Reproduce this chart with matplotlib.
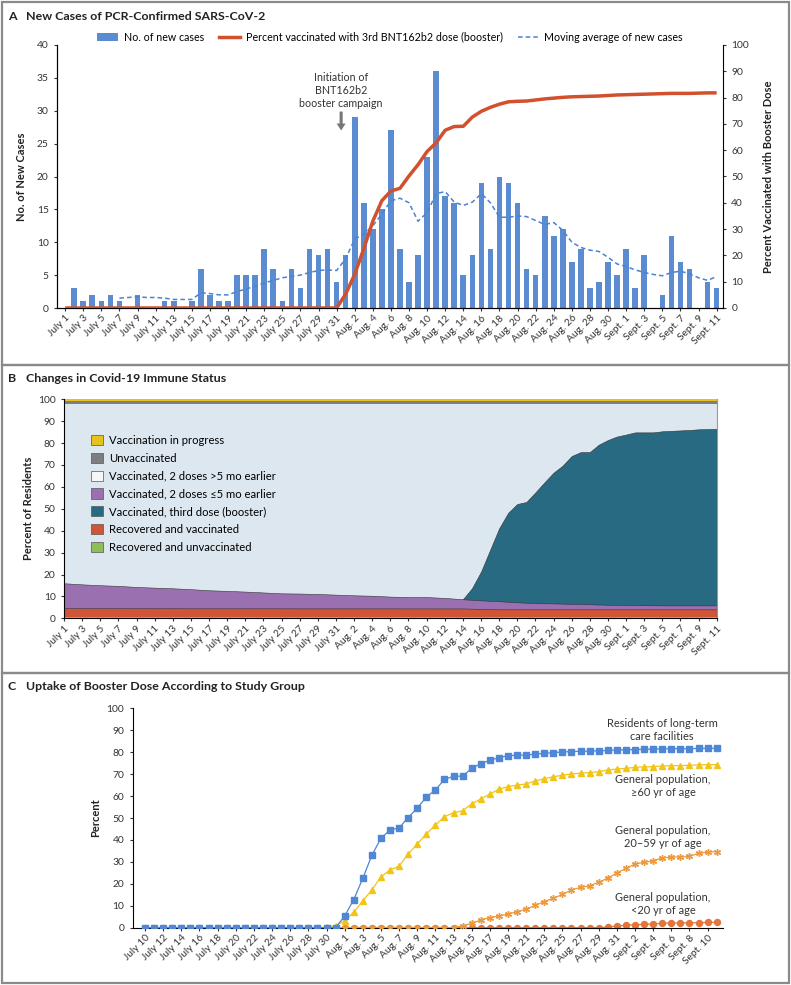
import numpy as np
import matplotlib
matplotlib.use("Agg")
import matplotlib.pyplot as plt
from matplotlib.patches import Patch, Rectangle
from matplotlib.lines import Line2D

plt.rcParams["font.family"] = ["Lato", "DejaVu Sans"]
plt.rcParams["font.size"] = 7.4
plt.rcParams["axes.linewidth"] = 0.8
plt.rcParams["xtick.major.size"] = 2.5
plt.rcParams["ytick.major.size"] = 2.5
plt.rcParams["xtick.color"] = "#333333"
plt.rcParams["ytick.color"] = "#333333"

W, H = 791, 985

# ---------------- data ----------------
# tick labels, every second day from July 1 to Sept. 11
labels_ab = ["July 1", "July 3", "July 5", "July 7", "July 9", "July 11", "July 13", "July 15",
             "July 17", "July 19", "July 21", "July 23", "July 25", "July 27", "July 29", "July 31",
             "Aug. 2", "Aug. 4", "Aug. 6", "Aug. 8", "Aug. 10", "Aug. 12", "Aug. 14", "Aug. 16",
             "Aug. 18", "Aug. 20", "Aug. 22", "Aug. 24", "Aug. 26", "Aug. 28", "Aug. 30",
             "Sept. 1", "Sept. 3", "Sept. 5", "Sept. 7", "Sept. 9", "Sept. 11"]
# tick labels for panel C, every second day from July 10 to Sept. 10
labels_c = ["July 10", "July 12", "July 14", "July 16", "July 18", "July 20", "July 22", "July 24",
            "July 26", "July 28", "July 30", "Aug. 1", "Aug. 3", "Aug. 5", "Aug. 7", "Aug. 9",
            "Aug. 11", "Aug. 13", "Aug. 15", "Aug. 17", "Aug. 19", "Aug. 21", "Aug. 23", "Aug. 25",
            "Aug. 27", "Aug. 29", "Aug. 31", "Sept. 2", "Sept. 4", "Sept. 6", "Sept. 8", "Sept. 10"]

# panel A: daily new cases July 1 .. Sept 11
new_cases = [0, 3, 1, 2, 1, 2, 1, 0, 2, 0, 0, 1, 1, 0, 1, 6, 2, 1, 1, 5, 5, 5, 9, 6, 1, 6, 3, 9, 8, 9, 4,
             8, 29, 16, 12, 15, 27, 9, 4, 8, 23, 36, 17, 16, 5, 8, 19, 9, 20, 19, 16, 6, 5, 14, 11, 12,
             7, 9, 3, 4, 7, 5,
             9, 3, 8, 0, 2, 11, 7, 6, 0, 4, 3]
# moving average, July 7 .. Sept 11
moving_avg = [1.5, 1.6, 1.7, 1.6, 1.6, 1.5, 1.3, 1.3, 1.3,
              2.3, 2.2, 2.0, 2.0, 2.5, 2.9, 3.3, 3.8, 4.2, 4.6, 4.8, 5.0, 5.4, 5.7, 5.8, 5.7,
              7.5, 10.5, 11.2, 12.5, 14.3, 16.3, 16.7, 16.0, 13.2, 14.5, 17.4, 17.7, 16.1, 15.6, 16.1,
              17.4, 16.0, 13.8, 13.8, 14.0, 13.9, 13.3, 12.7, 13.0, 11.8, 10.0, 9.2, 8.8, 8.6, 7.7, 6.7,
              6.3, 5.8, 5.4, 5.1, 4.9, 5.4, 5.6, 5.2, 4.6, 4.2, 4.8]
# percent of residents boosted, July 1 .. Sept 11
booster_pct = [0] * 31 + [
    5.3, 12.8, 22.5, 33.0, 40.8, 44.5, 45.5, 50.2, 54.5, 59.5, 62.8, 67.6, 69.0, 69.1, 72.6, 74.8,
    76.3, 77.5, 78.4, 78.6, 78.7, 79.1, 79.5, 79.8, 80.1, 80.3, 80.4, 80.5, 80.6, 80.8, 81.0,
    81.1, 81.2, 81.3, 81.4, 81.5, 81.6, 81.6, 81.6, 81.7, 81.8, 81.8]

# panel B: cumulative upper boundaries of the stacked layers (percent)
purple_top = [16.0, 15.5, 15.1, 14.8, 14.3, 14.0, 13.7, 13.3, 12.8, 12.5, 12.2, 11.8, 11.4, 11.3,
              11.1, 10.8, 10.5, 10.3, 9.9, 9.7, 9.7, 9.3, 8.7, 8.2, 7.8, 7.3, 6.9, 6.8, 6.6, 6.4,
              6.2, 6.1, 6.0, 5.9, 5.9, 5.9, 5.9]          # every 2nd day from July 1
teal_top = [8.7, 13.7, 21.3, 31.2, 41.1, 48.2, 52.2, 53.1, 57.5, 62.1, 66.5, 69.7, 74.1, 75.9, 75.9,
            79.3, 81.4, 83.0, 83.9, 84.9, 84.9, 84.9, 85.4, 85.6, 85.8, 86.0, 86.3, 86.4, 86.5]  # Aug 14 .. Sept 11
red_top_days = [0, 44, 48, 72]
red_top = [4.6, 4.5, 4.1, 4.1]
green_top = 0.6
light_top = 98.0
grey_top = 99.2

# panel C: uptake by group, July 10 .. Sept 11
ge60 = [0] * 20 + [0.3, 0.8,
        3.2, 7.0, 12.3, 17.2, 23.2, 26.3, 28.1, 33.6, 38.1, 42.7, 46.8, 50.6, 52.4, 53.3, 56.4, 58.7,
        60.9, 63.1, 64.3, 65.0, 65.5, 66.9, 67.9, 68.8, 69.5, 70.1, 70.4, 70.7, 71.1, 71.9, 72.3,
        72.6, 73.1, 73.3, 73.4, 73.7, 73.8, 73.9, 74.0, 74.2, 74.3, 74.3]
age20_59 = [0] * 35 + [0.8, 2.0, 3.5, 4.6, 5.3, 6.2, 7.3, 8.4, 10.2, 11.9, 13.4, 15.2, 17.2, 18.4,
                       19.1, 20.7, 22.6, 24.9,
                       27.1, 29.0, 29.8, 30.5, 31.8, 32.2, 32.2, 32.5, 33.9, 34.5, 34.7]
lt20 = [0] * 51 + [0.3, 0.8, 1.1, 1.4, 1.5, 1.7, 2.0, 2.1, 2.2, 2.2, 2.3, 2.4, 2.4]
residents = booster_pct[9:]

days = np.arange(len(new_cases))
days_c = np.arange(len(residents))


def ax_rect(left, top, right, bottom):
    return [left / W, 1 - bottom / H, (right - left) / W, (bottom - top) / H]


def fx(x):
    return x / W


def fy(y):
    return 1 - y / H


fig = plt.figure(figsize=(W / 100, H / 100), dpi=100)

# panel frames
for y0, y1 in [(2, 365), (365, 673), (673, 983)]:
    fig.add_artist(Rectangle((fx(2), fy(y1)), fx(787), (y1 - y0) / H, fill=False,
                             edgecolor="#8a8a8a", linewidth=1.6, transform=fig.transFigure))

title_kw = dict(fontsize=8.9, fontweight="bold", va="center", color="#222222")
fig.text(fx(8), fy(16), "A", **title_kw)
fig.text(fx(26), fy(16), "New Cases of PCR-Confirmed SARS-CoV-2", **title_kw)
fig.text(fx(8), fy(378), "B", **title_kw)
fig.text(fx(26), fy(378), "Changes in Covid-19 Immune Status", **title_kw)
fig.text(fx(8), fy(687), "C", **title_kw)
fig.text(fx(26), fy(687), "Uptake of Booster Dose According to Study Group", **title_kw)

lab_kw = dict(fontsize=8.0, fontweight="bold", rotation=90, ha="center", va="center", color="#222222")

# ---------------- panel A ----------------
blue = "#5B8BD0"
red = "#D2502E"
ax1 = fig.add_axes(ax_rect(57, 45, 723, 308))
ax1.bar(days, new_cases, width=0.62, color=blue, zorder=2)
ma_days = days[6:]
ax1.plot(ma_days, moving_avg, color="#4A82D4", linestyle=(0, (3, 2)), linewidth=1.1, zorder=3)
ax1.set_xlim(-0.9, 72.7)
ax1.set_ylim(0, 40)
ax1.set_yticks(range(0, 41, 5))
ax1.set_xticks(days[::2])
ax1.set_xticklabels(labels_ab, rotation=45, ha="right", rotation_mode="anchor")
ax1.tick_params(axis="x", pad=1.5)
ax1.spines["top"].set_visible(False)
ax1.spines["right"].set_visible(False)
ax1.set_zorder(1)

ax2 = ax1.twinx()
ax2.plot(days, booster_pct, color=red, linewidth=2.5, zorder=4, solid_capstyle="butt")
ax2.set_ylim(0, 100)
ax2.set_yticks(range(0, 101, 10))
ax2.spines["top"].set_visible(False)
ax2.set_zorder(2)
ax2.patch.set_visible(False)

fig.text(fx(22), fy(177), "No. of New Cases", **lab_kw)
fig.text(fx(768), fy(177), "Percent Vaccinated with Booster Dose", **lab_kw)

handles = [Patch(facecolor=blue, edgecolor="none"),
           Line2D([], [], color=red, linewidth=2.5),
           Line2D([], [], color="#4A82D4", linestyle=(0, (3, 2)), linewidth=1.1)]
ax1.legend(handles, ["No. of new cases", "Percent vaccinated with 3rd BNT162b2 dose (booster)",
                     "Moving average of new cases"],
           loc="lower center", bbox_to_anchor=(0.5, 0.985), ncol=3, frameon=False,
           fontsize=7.7, handlelength=2.0, columnspacing=1.4, handletextpad=0.5,
           borderaxespad=0.2)
ax1.annotate("Initiation of\nBNT162b2\nbooster campaign", xy=(30.5, 27.0), xytext=(30.5, 30.3),
             ha="center", va="bottom", fontsize=7.7, color="#333333", linespacing=1.2,
             arrowprops=dict(facecolor="#777777", edgecolor="none", width=2.2, headwidth=6.5,
                             headlength=5, shrink=0.0))

# ---------------- panel B ----------------
axb = fig.add_axes(ax_rect(64, 399.3, 716.7, 618.3))
c_yellow, c_grey, c_light = "#E8C21C", "#7E7E80", "#DDE7EF"
c_purple, c_teal, c_red, c_green = "#9B70B0", "#276A82", "#D05537", "#8DBE5A"
axb.fill_between([0, 72], 0, 100, color=c_yellow, linewidth=0)
axb.fill_between([0, 72], 0, grey_top, color=c_grey, linewidth=0)
axb.fill_between([0, 72], 0, light_top, color=c_light, linewidth=0)
axb.fill_between(days[44:], 0, teal_top, color=c_teal, edgecolor="#333333", linewidth=0.4)
axb.fill_between(days[::2], 0, purple_top, color=c_purple, edgecolor="#333333", linewidth=0.4)
axb.fill_between(red_top_days, 0, red_top, color=c_red, edgecolor="#333333", linewidth=0.4)
axb.fill_between([0, 72], 0, green_top, color=c_green, linewidth=0)
axb.set_xlim(0, 72)
axb.set_ylim(0, 100)
axb.set_yticks(range(0, 101, 10))
axb.set_xticks(days[::2])
axb.set_xticklabels(labels_ab, rotation=45, ha="right", rotation_mode="anchor")
axb.tick_params(axis="x", pad=1.5)
axb.spines["top"].set_visible(False)
axb.spines["right"].set_color("#999999")
fig.text(fx(29), fy(508), "Percent of Residents", **lab_kw)

leg_names = ["Vaccination in progress", "Unvaccinated", "Vaccinated, 2 doses >5 mo earlier",
             "Vaccinated, 2 doses \u22645 mo earlier", "Vaccinated, third dose (booster)",
             "Recovered and vaccinated", "Recovered and unvaccinated"]
leg_cols = [c_yellow, c_grey, "#F4F6F8", c_purple, c_teal, c_red, c_green]
axb.legend([Patch(facecolor=c, edgecolor="#555555", linewidth=0.5) for c in leg_cols], leg_names,
           loc="upper left", bbox_to_anchor=(0.035, 0.857), frameon=False, fontsize=8.1,
           handlelength=1.0, handleheight=1.0, handletextpad=0.6, labelspacing=0.6,
           borderaxespad=0)

# ---------------- panel C ----------------
axc = fig.add_axes(ax_rect(132.7, 708.3, 723, 927.7))
axc.plot(days_c, lt20, color="#E4743A", marker="o", markersize=4.3, linewidth=0.9, zorder=2)
axc.plot(days_c, age20_59, color="#EE9A3C", marker=(6, 2, 0), markersize=5, markeredgewidth=1.0,
         linewidth=0.9, zorder=3)
axc.plot(days_c, ge60, color="#F2C417", marker="^", markersize=4.6, linewidth=0.9, zorder=4)
axc.plot(days_c, residents, color="#4F86D6", marker="s", markersize=4.0, linewidth=0.9, zorder=5)
axc.set_xlim(-1.36, 63.7)
axc.set_ylim(0, 100)
axc.set_yticks(range(0, 101, 10))
axc.set_xticks(days_c[::2][:len(labels_c)])
axc.set_xticklabels(labels_c, rotation=45, ha="right", rotation_mode="anchor")
axc.tick_params(axis="x", pad=1.5)
axc.spines["top"].set_visible(False)
axc.spines["right"].set_visible(False)
fig.text(fx(96), fy(818), "Percent", **lab_kw)

note_kw = dict(fontsize=7.9, ha="center", va="center", color="#333333", linespacing=1.2)
fig.text(fx(662), fy(730), "Residents of long-term\ncare facilities", **note_kw)
fig.text(fx(663), fy(786), "General population,\n\u226560 yr of age", **note_kw)
fig.text(fx(663), fy(837), "General population,\n20\u201359 yr of age", **note_kw)
fig.text(fx(663), fy(904), "General population,\n<20 yr of age", **note_kw)

fig.savefig("out.png", dpi=100)
